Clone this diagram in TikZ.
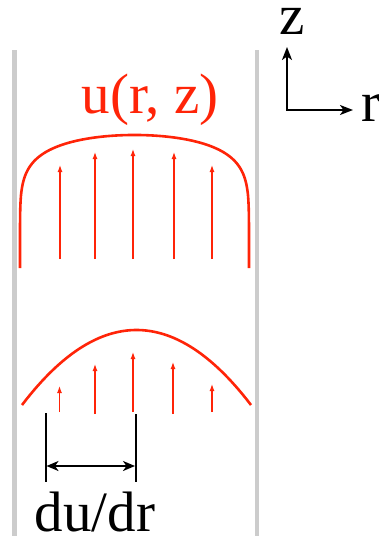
\documentclass[tikz,border=0pt]{standalone}
\usepackage{fontspec}
\setmainfont{Liberation Serif}
\usetikzlibrary{arrows.meta}
\definecolor{flowred}{RGB}{255,36,8}
\definecolor{wallgray}{RGB}{204,204,204}
\tikzset{
  wall/.style={draw=wallgray, line width=4.5pt},
  profile/.style={draw=flowred, line width=2.6pt},
  vel/.style={draw=flowred, line width=1.2pt, -{Latex[length=7pt,width=5pt]}},
  axis/.style={draw=black, line width=2pt, -{Stealth[length=13pt,width=10pt,inset=3.5pt]}},
  dim/.style={draw=black, line width=2pt, {Stealth[length=12pt,width=10pt,inset=3.5pt]}-{Stealth[length=12pt,width=10pt,inset=3.5pt]}},
  tick/.style={draw=black, line width=2pt},
  lbl/.style={inner sep=0pt, font=\fontsize{57}{57}\selectfont}
}
\begin{document}
\begin{tikzpicture}[x=1pt,y=-1pt]
\useasboundingbox (0,0) rectangle (379,536);
% walls
\coordinate (wl1) at (14.5,50); \coordinate (wl2) at (14.5,536);
\coordinate (wr1) at (257,50); \coordinate (wr2) at (257,536);
\draw[wall] (wl1) -- (wl2);
\draw[wall] (wr1) -- (wr2);
% top profile (flattened)
\coordinate (pl) at (20,268);
\coordinate (pr) at (249,268);
\draw[profile] (pl) -- plot[domain=89.9:-89.9, samples=121, smooth] ({134.5-114.5*sin(\x)},{268-133*cos(\x)^0.3})
  -- (pr);
% top velocity arrows
\foreach \px/\tip [count=\i] in {60/165,95/152,133/149,174/152,212/165}{
  \coordinate (ta\i) at (\px,259);
  \coordinate (tb\i) at (\px,\tip);
  \draw[vel] (ta\i) -- (tb\i);
}
% label u(r,z)
\node[lbl, text=flowred, anchor=base] (ulab) at (150,113) {u(r, z)};
% bottom profile (parabolic)
\draw[profile] plot[domain=-114.5:114.5, samples=60, smooth] ({136.5+\x},{330+75*(\x/114.5)^2});
% bottom velocity arrows
\foreach \px/\st/\tip [count=\i] in {59.5/412/386,95/414/364,133/412/352,173/414/362,212/412/384}{
  \coordinate (ba\i) at (\px,\st);
  \coordinate (bb\i) at (\px,\tip);
  \draw[vel] (ba\i) -- (bb\i);
}
% dimension
\coordinate (k1a) at (45.5,413); \coordinate (k1b) at (45.5,482);
\coordinate (k2a) at (136,414); \coordinate (k2b) at (136,482);
\draw[tick] (k1a) -- (k1b);
\draw[tick] (k2a) -- (k2b);
\coordinate (da) at (46.5,466); \coordinate (db) at (135,466);
\draw[dim] (da) -- (db);
\node[lbl, anchor=base] (dlab) at (95,531) {du/dr};
% axes
\coordinate (o) at (287,110);
\coordinate (zt) at (287,47);
\coordinate (rt) at (353,110);
\draw[axis] (o) -- (zt);
\draw[axis] ([xshift=-1pt]o) -- (rt);
\node[lbl, anchor=base] (zlab) at (292,34) {z};
\node[lbl, anchor=base west] (rlab) at (361,121) {r};
\end{tikzpicture}
\end{document}
